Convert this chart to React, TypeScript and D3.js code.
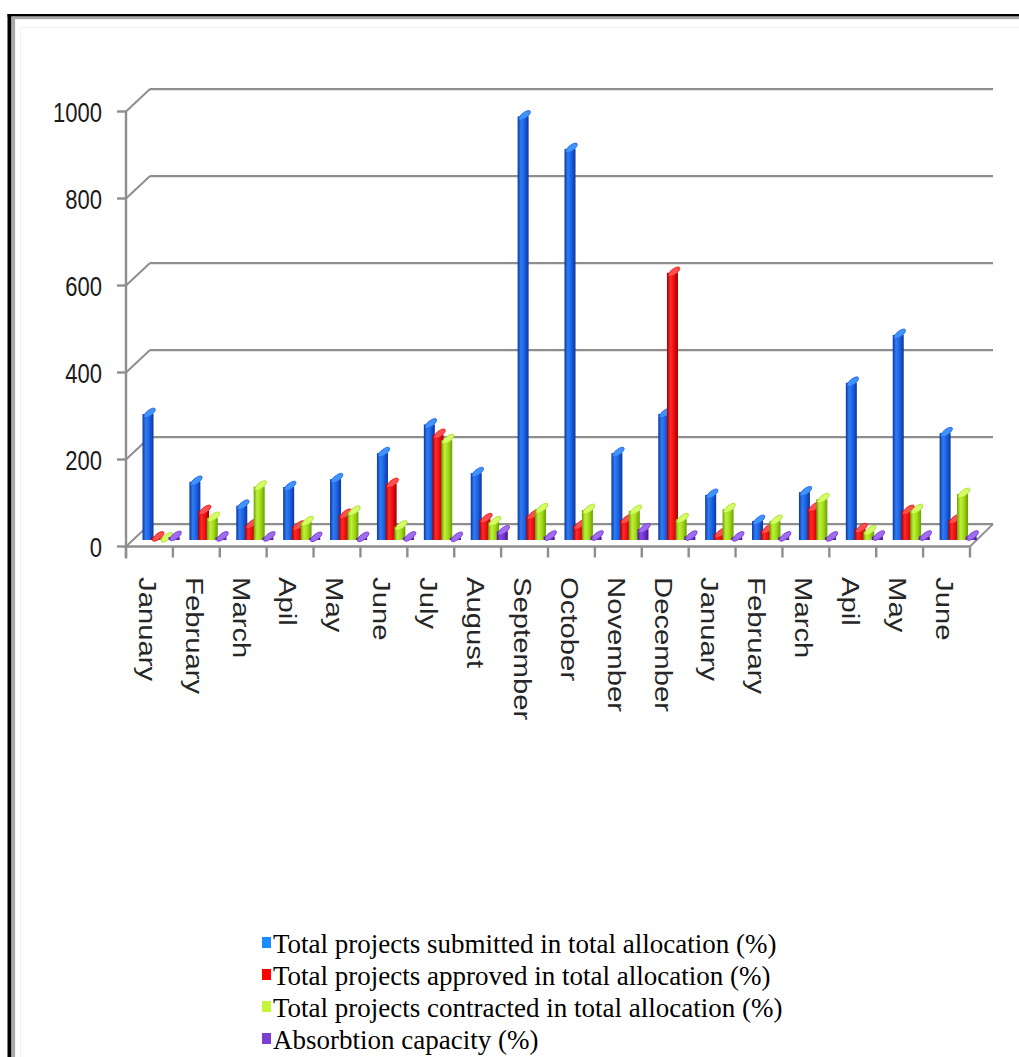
import React from "react";
import * as d3 from "d3";

const categories = ["January","February","March","Apil","May","June","July","August","September","October","November","December","January","February","March","Apil","May","June"];
const submitted = [290,134,79,122,140,200,266,154,975,900,200,290,104,44,110,362,472,246];
const approved = [6,67,35,31,58,129,242,48,56,33,46,615,14,23,74,25,67,46];
const contracted = [4,51,123,41,65,31,230,41,71,69,67,48,71,44,94,20,69,106];
const absorption = [7,6,6,5,5,6,5,20,8,8,25,8,6,6,6,8,8,8];
const yTicks = [0,200,400,600,800,1000];
const seriesNames = [
  "Total projects submitted in total allocation (%)",
  "Total projects approved in total allocation (%)",
  "Total projects contracted in total allocation (%)",
  "Absorbtion capacity (%)",
];

const W = 1019, H = 1057;
const palettes = [
  { dark: "#0a36a0", mid: "#1f63e6", light: "#2f7df2", cap: "#3f93fa", legend: "#1a8cff" },
  { dark: "#9c0000", mid: "#f01010", light: "#ff2a2a", cap: "#ff5050", legend: "#ff0000" },
  { dark: "#6aa000", mid: "#a6de1c", light: "#bff03a", cap: "#d4ff66", legend: "#c4f53a" },
  { dark: "#44168c", mid: "#7636cc", light: "#8a4ae0", cap: "#a06cf2", legend: "#7b3fd0" },
];

export default function App() {
  const data = [submitted, approved, contracted, absorption];
  const xBand = d3.scaleBand<number>().domain(d3.range(categories.length)).range([126, 970]).paddingInner(0).paddingOuter(0);
  const yFront = d3.scaleLinear().domain([0, 1000]).range([546.5, 111.5]);
  const yBar = d3.scaleLinear().domain([0, 1000]).range([540, 540 - 434.5]);
  const dX = 24, dY = -22.4;
  const backRight = 993;
  const barW = 11, barStep = 8.7, barOff = 16.5;
  const grid = "#8e8e8e";

  return (
    <svg width={W} height={H} style={{ position: "absolute", left: 0, top: 0, background: "#fff" }}>
      <defs>
        {palettes.map((p, i) => (
          <linearGradient key={i} id={"g" + i} x1="0" x2="1" y1="0" y2="0">
            <stop offset="0" stopColor={p.dark} />
            <stop offset="0.3" stopColor={p.light} />
            <stop offset="0.6" stopColor={p.mid} />
            <stop offset="1" stopColor={p.dark} />
          </linearGradient>
        ))}
      </defs>
      {/* frame */}
      <rect x={7.5} y={14} width={4} height={H - 14} fill="#000" />
      <rect x={7.5} y={14} width={W - 7.5} height={2.6} fill="#000" />
      <rect x={11.5} y={16.6} width={3.6} height={H - 16.6} fill="#a9a9a9" />
      <rect x={11.5} y={16.6} width={W - 11.5} height={2.6} fill="#a9a9a9" />
      <rect x={20} y={27} width={W - 20} height={1} fill="#f2f2f2" />
      <rect x={20} y={27} width={1} height={H - 27} fill="#f2f2f2" />

      {/* back wall gridlines */}
      {yTicks.map((t) => (
        <g key={"gl" + t}>
          <line x1={126 + dX} x2={backRight} y1={yFront(t) + dY} y2={yFront(t) + dY} stroke={grid} strokeWidth={2.4} />
          <line x1={126} x2={126 + dX} y1={yFront(t)} y2={yFront(t) + dY} stroke={grid} strokeWidth={2} />
        </g>
      ))}
      {/* floor */}
      <line x1={126} x2={970} y1={yFront(0)} y2={yFront(0)} stroke={grid} strokeWidth={2.4} />
      <line x1={970} x2={backRight} y1={yFront(0)} y2={yFront(0) + dY} stroke={grid} strokeWidth={2} />
      {/* y axis */}
      <line x1={126} x2={126} y1={yFront(1000)} y2={yFront(0) + 12} stroke={grid} strokeWidth={2.4} />
      {yTicks.map((t) => (
        <g key={"yt" + t}>
          <line x1={117} x2={126} y1={yFront(t)} y2={yFront(t)} stroke={grid} strokeWidth={2.4} />
          <text transform={`translate(102,${yFront(t)}) scale(1,1.27)`} dy="0.36em" textAnchor="end"
            fontFamily="'Liberation Sans', Arial, sans-serif" fontSize={22} fill="#1a1a1a">{t}</text>
        </g>
      ))}
      {/* x ticks */}
      {d3.range(categories.length + 1).map((i) => {
        const x = 126 + i * xBand.bandwidth();
        return <line key={"xt" + i} x1={x} x2={x} y1={yFront(0)} y2={yFront(0) + 11} stroke={grid} strokeWidth={2.4} />;
      })}
      {/* bars */}
      {categories.map((c, ci) => (
        <g key={"cat" + ci}>
          {data.map((arr, si) => {
            const v = arr[ci];
            const xl = (xBand(ci) as number) + barOff + si * barStep;
            const top = yBar(v);
            const base = yBar(0);
            const p = palettes[si];
            return (
              <g key={si}>
                <rect x={xl} y={top} width={barW} height={Math.max(base - top, 0.5)} fill={`url(#g${si})`} />
                <ellipse cx={xl + barW / 2 + 1.5} cy={top - 1} rx={barW / 2 + 1.5} ry={2.8}
                  transform={`rotate(-38,${xl + barW / 2 + 1.5},${top - 1})`} fill={p.cap} stroke={p.mid} strokeWidth={0.8} />
              </g>
            );
          })}
        </g>
      ))}
      {/* category labels */}
      {categories.map((c, ci) => {
        const cx = (xBand(ci) as number) + xBand.bandwidth() / 2 - 2;
        return (
          <text key={"cl" + ci} transform={`translate(${cx},577) scale(1,1.22) rotate(90)`} dy="0.36em"
            fontFamily="'Liberation Sans', Arial, sans-serif" fontSize={24} fill="#262626">{c}</text>
        );
      })}
      {/* legend */}
      {seriesNames.map((n, i) => {
        const yb = 953 + i * 32;
        return (
          <g key={"lg" + i}>
            <rect x={262} y={yb - 16} width={9} height={11} fill={palettes[i].legend} />
            <text x={273} y={yb} fontFamily="'Liberation Serif', 'Times New Roman', serif"
              fontSize={27} fill="#000">{n}</text>
          </g>
        );
      })}
    </svg>
  );
}
